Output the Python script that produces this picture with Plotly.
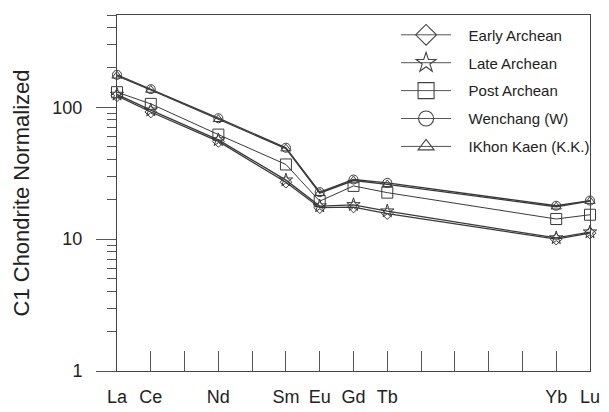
import plotly.graph_objects as go

elements = ["La", "Ce", "Pr", "Nd", "Pm", "Sm", "Eu", "Gd", "Tb", "Dy", "Ho", "Er", "Tm", "Yb", "Lu"]
tick_labels = ["La", "Ce", "", "Nd", "", "Sm", "Eu", "Gd", "Tb", "", "", "", "", "Yb", "Lu"]
ree = ["La", "Ce", "Nd", "Sm", "Eu", "Gd", "Tb", "Yb", "Lu"]

early_archean = [122, 92, 55, 27, 17.3, 17.5, 15.6, 10.0, 11.1]
late_archean = [125, 95, 56.5, 28, 17.8, 18.2, 16.3, 10.2, 11.3]
post_archean = [130, 106, 62, 36.8, 19.4, 25.3, 22.5, 14.2, 15.3]
wenchang = [176, 137, 82.5, 49.3, 22.7, 28.3, 26.7, 17.9, 19.6]
khon_kaen = [173, 135, 81, 48.5, 22.3, 27.8, 26.0, 17.6, 19.4]

series = [
    ("Early Archean", early_archean, "diamond-open", 9, 16, 1.3),
    ("Late Archean", late_archean, "star-open", 10, 15, 1.3),
    ("Post Archean", post_archean, "square-open", 11, 16, 1.0),
    ("Wenchang (W)", wenchang, "circle-open", 9, 15, 1.3),
    ("IKhon Kaen (K.K.)", khon_kaen, "triangle-up-open", 9, 14, 1.3),
]

line_col = "#3a3a3a"
fig = go.Figure()
for name, vals, sym, msize, lsize, lw in series:
    fig.add_trace(go.Scatter(
        x=ree, y=vals, mode="lines+markers", name=name, showlegend=False,
        line=dict(color=line_col, width=lw),
        marker=dict(symbol=sym, size=msize, color=line_col, line=dict(width=1, color=line_col)),
        cliponaxis=False,
    ))
pad = "\u00a0\u00a0\u00a0"
for name, vals, sym, msize, lsize, lw in series:
    fig.add_trace(go.Scatter(
        x=[None], y=[None], mode="lines+markers", name=pad + name, legendgroup=name,
        line=dict(color="#555555", width=1),
        marker=dict(symbol=sym, size=lsize, color="#444444", line=dict(width=1.1, color="#444444")),
    ))

font_family = "Liberation Sans, Arial, Helvetica, sans-serif"
minor_vals = [v * m for m in (1, 10, 100) for v in range(2, 10)]
minor_vals = [v for v in minor_vals if v <= 500]

# page body has an 8px margin, so the figure is sized to fit the remaining window
fig.update_layout(
    width=601, height=404,
    margin=dict(l=109, r=19, t=7, b=41),
    paper_bgcolor="white", plot_bgcolor="white",
    font=dict(family=font_family, color="#222222"),
    showlegend=True,
    legend=dict(
        x=0.59, y=0.99, xanchor="left", yanchor="top",
        font=dict(size=15, color="#222222"),
        bgcolor="rgba(0,0,0,0)", borderwidth=0,
        tracegroupgap=5.4, itemwidth=50, traceorder="grouped",
    ),
    xaxis=dict(
        type="category", categoryorder="array", categoryarray=elements,
        range=[0, 14], tickmode="array", tickvals=elements, ticktext=tick_labels,
        ticks="inside", ticklen=20, tickwidth=1, tickcolor="#555555",
        showline=True, linecolor="#444444", linewidth=1, mirror=True,
        showgrid=False, zeroline=False, automargin=False,
        tickfont=dict(size=18, color="#222222"), ticklabelstandoff=9,
    ),
    yaxis=dict(
        type="log", range=[0, 2.699], automargin=False,
        tickmode="array", tickvals=[1, 10, 100], ticktext=["1", "10", "100"],
        ticks="outside", ticklen=20, tickwidth=1, tickcolor="#555555",
        minor=dict(tickmode="array", tickvals=minor_vals, ticks="outside", ticklen=9, tickcolor="#555555", showgrid=False),
        showline=True, linecolor="#444444", linewidth=1, mirror=True,
        showgrid=False, zeroline=False,
        tickfont=dict(size=18, color="#222222"), ticklabelstandoff=10,
        title=dict(text="C1 Chondrite Normalized", font=dict(size=22, color="#222222"), standoff=16),
    ),
)

fig.write_html("out.html")
